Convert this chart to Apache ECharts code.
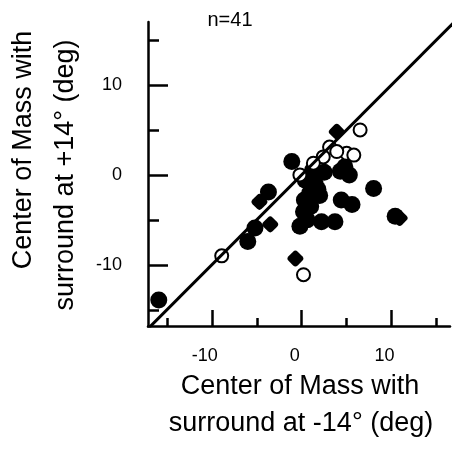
<!DOCTYPE html>
<html lang="en">
<head>
    <meta charset="UTF-8">
    <title>Center of Mass</title>
    <script src="https://cdn.jsdelivr.net/npm/echarts@6/dist/echarts.min.js"></script>
    <style>
        html, body { margin: 0; padding: 0; background: #fff; }
    </style>
</head>
<body>
    <div id="main" style="width: 455px;height: 466px"></div>
    <script type="text/javascript">
        // values, in deg
        var filledPts = [
            [-15.9, -13.9], [-6.0, -7.4], [-5.2, -5.9], [-3.7, -1.9], [-1.1, 1.5],
            [8.0, -1.5], [10.4, -4.6], [4.4, -2.8], [5.6, -3.3], [3.7, -5.2],
            [2.2, -5.2], [0.6, -5.0], [-0.2, -5.7], [0.2, -4.1], [0.9, -2.0],
            [2.0, -2.3], [0.4, -0.6], [1.5, -1.0], [4.3, 0.4], [5.3, 0.0],
            [4.8, 0.9], [1.2, 0.5], [2.5, 0.3], [0.3, -2.8], [1.0, -3.5],
            [1.8, -1.6]
        ];
        var openPts = [
            [-8.9, -9.0], [0.2, -11.1], [6.5, 5.0], [5.0, 2.4], [5.8, 2.2],
            [3.1, 3.1], [2.4, 2.0], [1.3, 1.3], [-0.2, 0.0], [3.9, 2.6]
        ];
        var diamondPts = [
            [3.9, 4.8], [-4.7, -3.0], [-3.5, -5.5], [-0.7, -9.3], [10.9, -4.8]
        ];
        var diagonal = [[-17.5, -17.5], [17, 17]];

        var xMajor = [-10, 0, 10];
        var xMinor = [-15, -5, 5, 15];
        var yMajor = [-10, 0, 10];
        var yMinor = [-15, -5, 5, 15];

        var font = 'Liberation Sans, Arial, Helvetica, sans-serif';
        var xRange = {min: -17.1, max: 16.5};
        var yRange = {min: -16.8, max: 17};

        var option = {
            animation: false,
            grid: {left: 148, right: 5, top: 22, bottom: 140},
            xAxis: [
                {
                    type: 'value', position: 'bottom',
                    min: xRange.min, max: xRange.max,
                    splitLine: {show: false},
                    axisLine: {onZero: false, lineStyle: {color: '#000', width: 2.5}},
                    axisTick: {inside: true, length: 16, customValues: xMajor, lineStyle: {color: '#000', width: 2.5}},
                    axisLabel: {customValues: xMajor, margin: 21, color: '#000', fontSize: 18,
                        fontFamily: font, padding: [0, 14, 0, 0]}
                },
                {
                    type: 'value', position: 'bottom',
                    min: xRange.min, max: xRange.max,
                    splitLine: {show: false},
                    axisLine: {show: false, onZero: false},
                    axisTick: {inside: true, length: 8, customValues: xMinor, lineStyle: {color: '#000', width: 2.5}},
                    axisLabel: {show: false}
                }
            ],
            yAxis: [
                {
                    type: 'value', position: 'left',
                    min: yRange.min, max: yRange.max,
                    splitLine: {show: false},
                    axisLine: {onZero: false, lineStyle: {color: '#000', width: 2.5}},
                    axisTick: {inside: true, length: 20, customValues: yMajor, lineStyle: {color: '#000', width: 2.5}},
                    axisLabel: {customValues: yMajor, margin: 26, color: '#000', fontSize: 18, fontFamily: font}
                },
                {
                    type: 'value', position: 'left',
                    min: yRange.min, max: yRange.max,
                    splitLine: {show: false},
                    axisLine: {show: false, onZero: false},
                    axisTick: {inside: true, length: 11, customValues: yMinor, lineStyle: {color: '#000', width: 2.5}},
                    axisLabel: {show: false}
                }
            ],
            graphic: [
                {type: 'text', x: 230, y: 20, style: {text: 'n=41', font: '20px ' + font, fill: '#000',
                    textAlign: 'center', textVerticalAlign: 'middle'}},
                {type: 'text', x: 24, y: 150, rotation: Math.PI / 2, style: {text: 'Center of Mass with',
                    font: '27px ' + font, fill: '#000', textAlign: 'center', textVerticalAlign: 'middle'}},
                {type: 'text', x: 66, y: 175, rotation: Math.PI / 2, style: {text: 'surround at +14° (deg)',
                    font: '27px ' + font, fill: '#000', textAlign: 'center', textVerticalAlign: 'middle'}},
                {type: 'text', x: 300, y: 387, style: {text: 'Center of Mass with',
                    font: '27px ' + font, fill: '#000', textAlign: 'center', textVerticalAlign: 'middle'}},
                {type: 'text', x: 301, y: 424, style: {text: 'surround at -14° (deg)',
                    font: '27px ' + font, fill: '#000', textAlign: 'center', textVerticalAlign: 'middle'}}
            ],
            series: [
                {
                    name: 'filled', type: 'scatter', data: filledPts, z: 2,
                    symbol: 'circle', symbolSize: 17,
                    itemStyle: {color: '#000', opacity: 1}
                },
                {
                    name: 'diamond', type: 'scatter', data: diamondPts, z: 3,
                    symbol: 'roundRect', symbolSize: 13, symbolRotate: 45,
                    itemStyle: {color: '#000', opacity: 1}
                },
                {
                    name: 'open', type: 'scatter', data: openPts, z: 4,
                    symbol: 'circle', symbolSize: 13,
                    itemStyle: {color: '#fff', borderColor: '#000', borderWidth: 2, opacity: 1}
                },
                {
                    name: 'unity', type: 'line', data: diagonal, z: 5,
                    symbol: 'none', clip: true,
                    lineStyle: {color: '#000', width: 3}
                }
            ]
        };

        var myChart = echarts.init(document.getElementById('main'));
        myChart.setOption(option);
    </script>
</body>
</html>
